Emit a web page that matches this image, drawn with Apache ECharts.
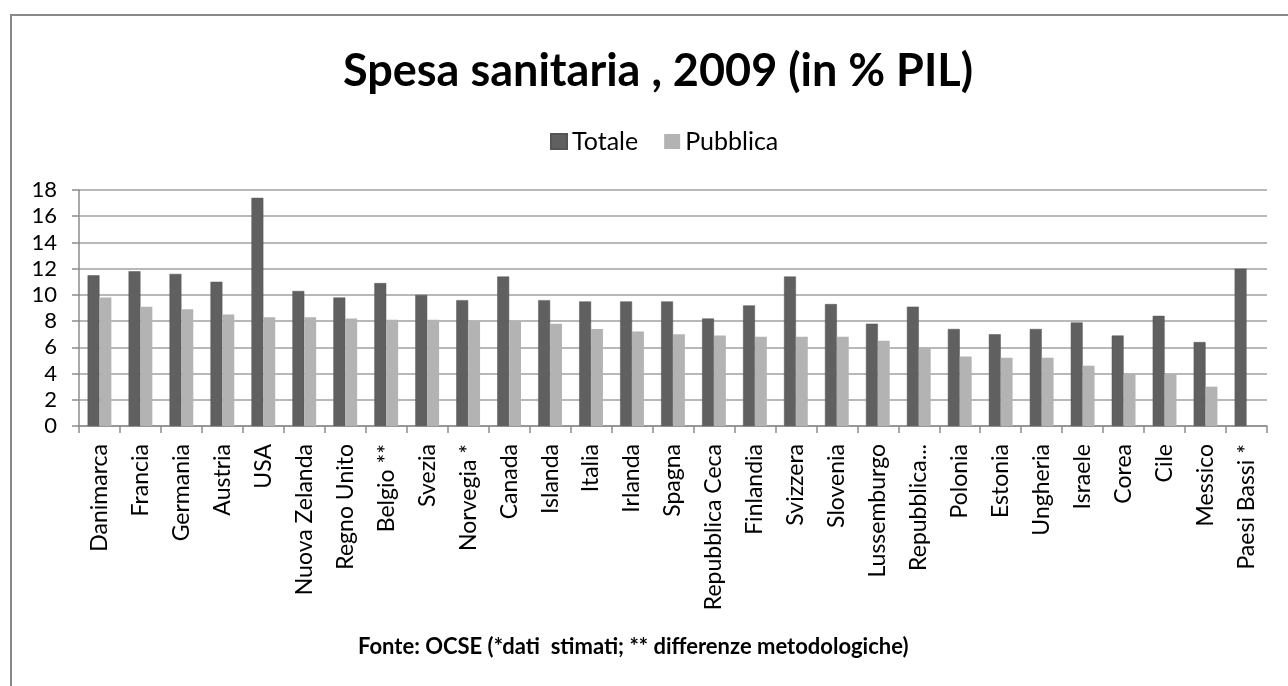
<!DOCTYPE html>
<html><head><meta charset="utf-8">
<script src="https://cdn.jsdelivr.net/npm/echarts@6/dist/echarts.min.js"></script>
<style>html,body{margin:0;padding:0;background:#fff}#c{width:1288px;height:686px}</style>
</head><body><div id="c"></div>
<script>
const categories = ["Danimarca","Francia","Germania","Austria","USA","Nuova Zelanda","Regno Unito","Belgio **","Svezia","Norvegia *","Canada","Islanda","Italia","Irlanda","Spagna","Repubblica Ceca","Finlandia","Svizzera","Slovenia","Lussemburgo","Repubblica...","Polonia","Estonia","Ungheria","Israele","Corea","Cile","Messico","Paesi Bassi *"];
const totale = [11.5,11.8,11.6,11.0,17.4,10.3,9.8,10.9,10.0,9.6,11.4,9.6,9.5,9.5,9.5,8.2,9.2,11.4,9.3,7.8,9.1,7.4,7.0,7.4,7.9,6.9,8.4,6.4,12.0];
const pubblica = [9.8,9.1,8.9,8.5,8.3,8.3,8.2,8.1,8.1,8.0,8.0,7.8,7.4,7.2,7.0,6.9,6.8,6.8,6.8,6.5,6.0,5.3,5.2,5.2,4.6,4.0,4.0,3.0,null];
const yTicks = [0,2,4,6,8,10,12,14,16,18];

const FONT = 'Lato';
const chart = echarts.init(document.getElementById('c'), null, {renderer:'canvas'});
chart.setOption({
  animation:false,
  textStyle:{fontFamily:FONT},
  title:{text:'Spesa sanitaria , 2009 (in % PIL)', left:338, top:44,
    textStyle:{fontFamily:FONT,fontSize:45,fontWeight:'bold',color:'#000'}},
  legend:{top:124,left:545,itemWidth:16,itemHeight:15,itemGap:26,icon:'rect',
    textStyle:{fontFamily:FONT,fontSize:25,color:'#000'}},
  graphic:[
    {type:'rect',shape:{x:11,y:15,width:1300,height:700},style:{fill:null,stroke:'#888',lineWidth:2},silent:true,z:-1},
    {type:'text',left:358,top:636,style:{text:'Fonte: OCSE (*dati  stimati; ** differenze metodologiche)',
      font:'bold 22px '+FONT,fill:'#000'}}
  ],
  grid:{left:79,right:21,top:190,height:236,containLabel:false},
  xAxis:{type:'category',data:categories,
    axisLine:{lineStyle:{color:'#8c8c8c',width:1.5}},
    axisTick:{show:true,length:7,lineStyle:{color:'#8c8c8c',width:1.5}},
    axisLabel:{rotate:90,fontSize:23,color:'#000',fontFamily:FONT,margin:18,interval:0},
    splitLine:{show:false}},
  yAxis:{type:'value',min:0,max:18,interval:2,
    axisLine:{show:true,lineStyle:{color:'#8c8c8c',width:1.5}},
    axisTick:{show:true,length:7,lineStyle:{color:'#8c8c8c',width:1.5}},
    axisLabel:{fontSize:22,color:'#000',fontFamily:FONT,margin:22,
      formatter:v=>yTicks.includes(v)?String(v):''},
    splitLine:{lineStyle:{color:'#a0a0a0',width:1.5}}},
  series:[
    {name:'Totale',type:'bar',data:totale,barGap:'0%',barCategoryGap:'42%',
      itemStyle:{color:'#606060',borderColor:'#555',borderWidth:0.5}},
    {name:'Pubblica',type:'bar',data:pubblica,
      itemStyle:{color:'#b3b3b3'}}
  ]
});
</script></body></html>
